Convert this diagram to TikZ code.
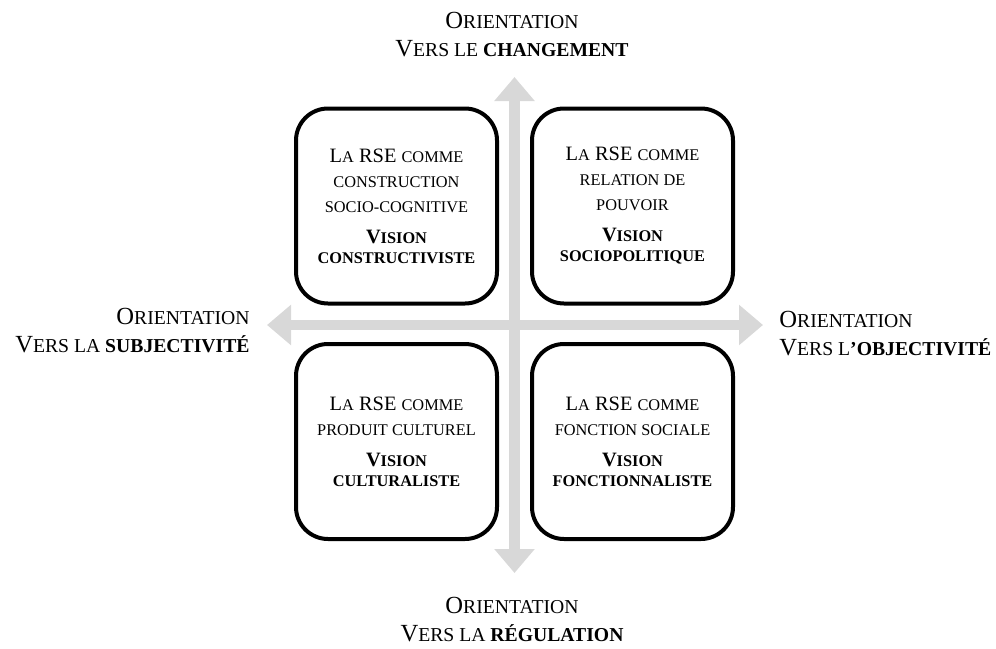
\documentclass[tikz,border=0pt]{standalone}
\usepackage{fontspec}
\setmainfont{Liberation Serif}
\usetikzlibrary{positioning,arrows.meta}
\definecolor{axisgrey}{HTML}{D8D8D8}
% fake small caps: capitals scaled down
\newcommand{\pc}[1]{\scalebox{0.8}{#1}}
\tikzset{
  quad/.style ={draw=black, fill=white, line width=2pt, rounded corners=16pt,
                minimum width=100.5pt, minimum height=97.5pt, inner sep=0pt,
                align=center, font=\fontsize{10.2}{12.5}\selectfont},
  pole/.style ={inner sep=0pt, font=\fontsize{12.3}{14}\selectfont},
  axe/.style  ={draw=axisgrey, line width=5.25pt,
                {Triangle[length=12pt,width=19.5pt]}-{Triangle[length=12pt,width=19.5pt]}},
}
\newcommand{\vision}[1]{\\[3pt]\textbf{V\pc{ISION}}\\[-2.5pt]\textbf{\pc{#1}}}

\begin{document}
\begin{tikzpicture}[x=0.5pt,y=-0.5pt]
\useasboundingbox (0,0) rectangle (996,648);
% the two axes
\coordinate (N) at (514.5,77);
\coordinate (S) at (514.5,573);
\coordinate (W) at (267,325);
\coordinate (E) at (763,325);
\draw[axe] (S) -- (N);
\draw[axe] (W) -- (E);
% the four visions
\node[quad] (constr) at (396.5,206)
  {L\pc{A} RSE \pc{COMME}\\\pc{CONSTRUCTION}\\\pc{SOCIO-COGNITIVE}\vision{CONSTRUCTIVISTE}};
\node[quad] (sociopol) at (632.5,206)
  {L\pc{A} RSE \pc{COMME}\\\pc{RELATION DE}\\\pc{POUVOIR}\vision{SOCIOPOLITIQUE}};
\node[quad] (cultur) at (396.5,441.5)
  {L\pc{A} RSE \pc{COMME}\\\pc{PRODUIT CULTUREL}\vision{CULTURALISTE}};
\node[quad] (fonction) at (632.5,441.5)
  {L\pc{A} RSE \pc{COMME}\\\pc{FONCTION SOCIALE}\vision{FONCTIONNALISTE}};
% the four orientations
\node[pole, align=center, anchor=north] (changement) at (512,12)
  {O\pc{RIENTATION}\\V\pc{ERS LE \textbf{CHANGEMENT}}};
\node[pole, align=center, anchor=north] (regulation) at (512,597)
  {O\pc{RIENTATION}\\V\pc{ERS LA \textbf{RÉGULATION}}};
\node[pole, align=right, anchor=north east] (subjectivite) at (250,308)
  {O\pc{RIENTATION}\\V\pc{ERS LA \textbf{SUBJECTIVITÉ}}};
\node[pole, align=left, anchor=north west] (objectivite) at (779,311)
  {O\pc{RIENTATION}\\V\pc{ERS L\textbf{’OBJECTIVITÉ}}};
\end{tikzpicture}
\end{document}
